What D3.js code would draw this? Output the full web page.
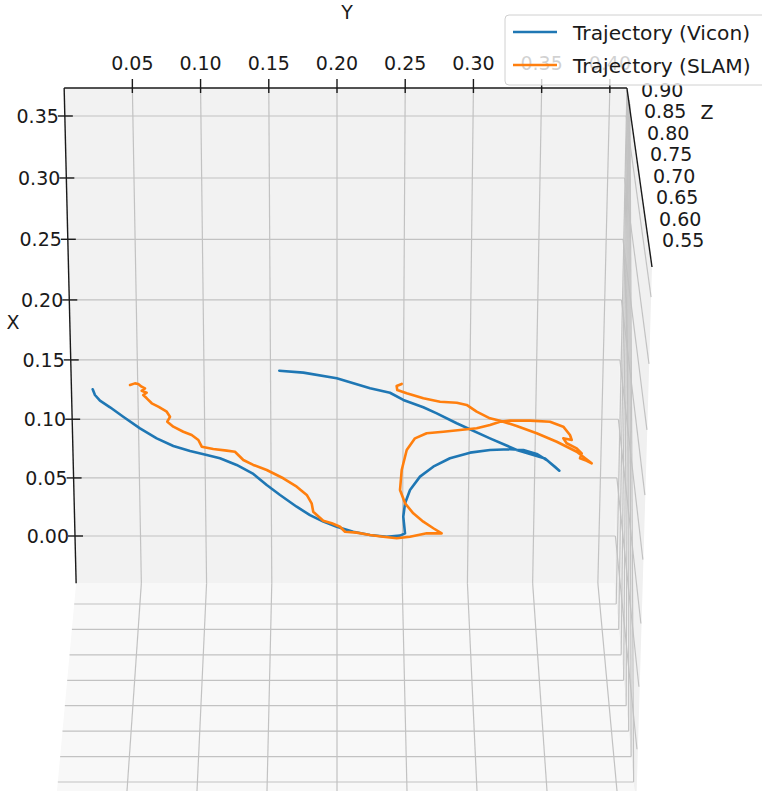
<!DOCTYPE html>
<html>
<head>
<meta charset="utf-8">
<script src="https://cdn.jsdelivr.net/npm/d3@7"></script>
<style>
  body { margin: 0; background: #fff; }
  svg { display: block; font-family: "DejaVu Sans", sans-serif; }
</style>
</head>
<body>
<svg id="chart" width="762" height="791"></svg>
<script>
// tick values
const yTicks = [0.05, 0.10, 0.15, 0.20, 0.25, 0.30, 0.35, 0.40];
const xTicks = [0.00, 0.05, 0.10, 0.15, 0.20, 0.25, 0.30, 0.35];
const zTicks = [0.55, 0.60, 0.65, 0.70, 0.75, 0.80, 0.85, 0.90];

// axis limits
const yLim = [0.0, 0.4125];
const xLim = [-0.041, 0.3724];

// Vicon trajectory (Y, X)
const viconY = [0.0160, 0.0176, 0.0213, 0.0288, 0.0386, 0.0511, 0.0636, 0.0761, 0.0887, 0.1013,
  0.1113, 0.1239, 0.1365, 0.1466, 0.1567, 0.1693, 0.1794, 0.1896, 0.1998, 0.2124,
  0.2252, 0.2379, 0.2481, 0.2519, 0.2505, 0.2518, 0.2555, 0.2630, 0.2730, 0.2856,
  0.3008, 0.3159, 0.3310, 0.3411, 0.3513, 0.3590, 0.3653, 0.3687, 0.3577, 0.3361,
  0.3157, 0.2904, 0.2753, 0.2651, 0.2500, 0.2399, 0.2249, 0.1998, 0.1747, 0.1566];
const viconX = [0.1253, 0.1205, 0.1157, 0.1101, 0.1021, 0.0923, 0.0838, 0.0773, 0.0730, 0.0696,
  0.0668, 0.0611, 0.0534, 0.0439, 0.0354, 0.0253, 0.0181, 0.0124, 0.0080, 0.0037,
  0.0009, -0.0006, 0.0003, 0.0023, 0.0167, 0.0282, 0.0397, 0.0511, 0.0596, 0.0668,
  0.0716, 0.0739, 0.0745, 0.0739, 0.0705, 0.0653, 0.0596, 0.0562, 0.0666, 0.0739,
  0.0838, 0.0966, 0.1050, 0.1101, 0.1163, 0.1224, 0.1261, 0.1346, 0.1393, 0.1409];

// SLAM trajectory (Y, X)
const slamY = [0.0442, 0.0479, 0.0504, 0.0529, 0.0554, 0.0529, 0.0566, 0.0540, 0.0566, 0.0603,
  0.0652, 0.0715, 0.0739, 0.0718, 0.0763, 0.0838, 0.0901, 0.0951, 0.0976, 0.1063,
  0.1165, 0.1227, 0.1290, 0.1365, 0.1467, 0.1592, 0.1694, 0.1770, 0.1807, 0.1819,
  0.1895, 0.1960, 0.2023, 0.2061, 0.2150, 0.2252, 0.2353, 0.2456, 0.2557, 0.2685,
  0.2799, 0.2735, 0.2658, 0.2581, 0.2518, 0.2479, 0.2491, 0.2528, 0.2590, 0.2678,
  0.2804, 0.2930, 0.3056, 0.3156, 0.3231, 0.3307, 0.3458, 0.3609, 0.3710, 0.3762,
  0.3776, 0.3712, 0.3738, 0.3815, 0.3854, 0.3842, 0.3893, 0.3931, 0.3816, 0.3663,
  0.3510, 0.3358, 0.3231, 0.3155, 0.3054, 0.2978, 0.2903, 0.2777, 0.2651, 0.2525,
  0.2454, 0.2449, 0.2487];
const slamX = [0.1289, 0.1303, 0.1298, 0.1275, 0.1261, 0.1241, 0.1224, 0.1205, 0.1177, 0.1135,
  0.1106, 0.1064, 0.1021, 0.0979, 0.0937, 0.0894, 0.0866, 0.0824, 0.0767, 0.0747,
  0.0733, 0.0724, 0.0653, 0.0611, 0.0568, 0.0497, 0.0425, 0.0354, 0.0282, 0.0210,
  0.0132, 0.0110, 0.0080, 0.0037, 0.0029, 0.0009, -0.0006, -0.0020, -0.0006, 0.0023,
  0.0023, 0.0067, 0.0124, 0.0196, 0.0282, 0.0397, 0.0568, 0.0739, 0.0838, 0.0881,
  0.0894, 0.0909, 0.0923, 0.0951, 0.0979, 0.0988, 0.0988, 0.0979, 0.0937, 0.0866,
  0.0824, 0.0838, 0.0796, 0.0753, 0.0710, 0.0668, 0.0647, 0.0625, 0.0724, 0.0809,
  0.0881, 0.0943, 0.0988, 0.1008, 0.1064, 0.1121, 0.1140, 0.1148, 0.1177, 0.1219,
  0.1247, 0.1281, 0.1298];

const svg = d3.select("#chart");
const cx = 337;
const gridColor = "#c2c2c2";
const fontSize = 19;

// perspective for the floor pane (Y across, X up the screen)
const wX = d3.scaleLinear().domain([0, 1]).range([1, 0.8932]);
const rowX = d3.scaleLinear().domain([0, 0.35]).range([536, 111.66]);
const colY = d3.scaleLinear().domain([0.2, 0.4]).range([0, 262]);
function proj(Y, X) {
  const w = wX(X);
  return [cx + colY(Y) / w, rowX(X) / w];
}

// lower pane (seen below the floor)
const floorRow = proj(yLim[1], xLim[0])[1];
const bottomRow = 800;
const zLow = d3.scaleLinear().domain([0.90, 0.55]).range([604, 782]);
const spread = d3.scaleLinear().domain([floorRow, 791]).range([1 / wX(xLim[0]), 1400 / 1310]);
function projLow(Y, row) { return [cx + colY(Y) * spread(row), row]; }

// z axis on the right
const zTop = proj(yLim[1], xLim[1]);
const zEnd = [652, 267];
const zRow = d3.scaleLinear().domain([0.55, 0.90]).range([240, 90]);
function projZ(Z) {
  const r = zRow(Z);
  return [zTop[0] + (r - zTop[1]) * (zEnd[0] - zTop[0]) / (zEnd[1] - zTop[1]), r];
}
// z grid lines of the side pane all start close to the top corner
const zFan = d3.scaleLinear().domain([0.90, 0.55]).range([0, 1]);
function fanStart(Z) { const f = zFan(Z); return [zTop[0] + 3 * f, zTop[1] + 2 + 14 * f]; }

const line = d3.line();

// panes
const lowBR = projLow(yLim[1], bottomRow);
svg.append("path")
  .attr("d", line([zTop, zEnd, [lowBR[0] + 1, bottomRow], lowBR, projLow(yLim[1], floorRow)]) + "Z")
  .attr("fill", "#f0f0f0");
svg.append("path")
  .attr("d", line([projLow(yLim[0], floorRow), projLow(yLim[1], floorRow),
    projLow(yLim[1], bottomRow), projLow(yLim[0], bottomRow)]) + "Z")
  .attr("fill", "#f8f8f8");
svg.append("path")
  .attr("d", line([proj(yLim[0], xLim[1]), proj(yLim[1], xLim[1]),
    proj(yLim[1], xLim[0]), proj(yLim[0], xLim[0])]) + "Z")
  .attr("fill", "#f2f2f2");

const grid = svg.append("g").attr("stroke", gridColor).attr("stroke-width", 1.2).attr("fill", "none");

// side pane grid
zTicks.forEach(z => {
  grid.append("path").attr("d", line([fanStart(z), projLow(yLim[1], zLow(z))]));
});
xTicks.forEach(x => {
  const f = proj(yLim[1], x);
  const t = (f[1] - zTop[1]) / (floorRow - zTop[1]);
  const o = [zEnd[0] + t * (lowBR[0] - zEnd[0]), zEnd[1] + t * (bottomRow - zEnd[1])];
  grid.append("path").attr("d", line([f, o]));
});

// lower pane grid
yTicks.forEach(y => {
  grid.append("path").attr("d", line([projLow(y, floorRow), projLow(y, bottomRow)]));
});
zTicks.forEach(z => {
  const r = zLow(z);
  grid.append("path").attr("d", line([projLow(yLim[0], r), projLow(yLim[1], r)]));
});

// floor grid
yTicks.forEach(y => {
  grid.append("path").attr("d", line([proj(y, xLim[1]), proj(y, xLim[0])]));
});
xTicks.forEach(x => {
  grid.append("path").attr("d", line([proj(yLim[0], x), proj(yLim[1], x)]));
});

// trajectories
const traj = d3.line().x(d => proj(d[0], d[1])[0]).y(d => proj(d[0], d[1])[1]);
svg.append("path")
  .attr("d", traj(d3.zip(viconY, viconX)))
  .attr("fill", "none").attr("stroke", "#1f77b4").attr("stroke-width", 2.6)
  .attr("stroke-linejoin", "round").attr("stroke-linecap", "round");
svg.append("path")
  .attr("d", traj(d3.zip(slamY, slamX)))
  .attr("fill", "none").attr("stroke", "#ff7f0e").attr("stroke-width", 2.6)
  .attr("stroke-linejoin", "round").attr("stroke-linecap", "round");

// axis lines
const axes = svg.append("g").attr("stroke", "#1a1a1a").attr("stroke-width", 1.4).attr("fill", "none");
axes.append("path").attr("d", line([proj(yLim[0], xLim[1]), proj(yLim[1], xLim[1])]));
axes.append("path").attr("d", line([proj(yLim[0], xLim[1]), proj(yLim[0], xLim[0])]));
axes.append("path").attr("d", line([zTop, zEnd]));

// Y ticks on top
yTicks.forEach(y => {
  const p = proj(y, xLim[1]);
  axes.append("path").attr("d", line([[p[0], p[1] - 9], [p[0], p[1] + 5]]));
  svg.append("text").attr("x", p[0]).attr("y", 70)
    .attr("text-anchor", "middle").attr("font-size", fontSize).attr("fill", "#1a1a1a")
    .text(y.toFixed(2));
});

// X ticks on the left
xTicks.forEach(x => {
  const p = proj(yLim[0], x);
  axes.append("path").attr("d", line([[p[0] - 7, p[1]], [p[0] + 8, p[1]]]));
  svg.append("text").attr("x", p[0] - 6).attr("y", p[1] + 7)
    .attr("text-anchor", "end").attr("font-size", fontSize).attr("fill", "#1a1a1a")
    .text(x.toFixed(2));
});

// Z tick labels
zTicks.forEach(z => {
  const p = projZ(z);
  svg.append("text").attr("x", p[0] + 35).attr("y", p[1] + 7)
    .attr("text-anchor", "middle").attr("font-size", fontSize).attr("fill", "#1a1a1a")
    .text(z.toFixed(2));
});

// axis labels
svg.append("text").attr("x", 347).attr("y", 19).attr("text-anchor", "middle")
  .attr("font-size", fontSize).attr("fill", "#1a1a1a").text("Y");
svg.append("text").attr("x", 13).attr("y", 329).attr("text-anchor", "middle")
  .attr("font-size", fontSize).attr("fill", "#1a1a1a").text("X");
svg.append("text").attr("x", 707).attr("y", 119).attr("text-anchor", "middle")
  .attr("font-size", fontSize).attr("fill", "#1a1a1a").text("Z");

// legend
const series = ["Trajectory (Vicon)", "Trajectory (SLAM)"];
const colors = ["#1f77b4", "#ff7f0e"];
const legend = svg.append("g").attr("transform", "translate(505,15)");
legend.append("rect")
  .attr("width", 270).attr("height", 70).attr("rx", 4)
  .attr("fill", "#fff").attr("fill-opacity", 0.8)
  .attr("stroke", "#d0d0d0").attr("stroke-width", 1);
series.forEach((s, i) => {
  legend.append("line")
    .attr("x1", 8).attr("x2", 52).attr("y1", 17 + i * 33).attr("y2", 17 + i * 33)
    .attr("stroke", colors[i]).attr("stroke-width", 2.6);
  legend.append("text")
    .attr("x", 68).attr("y", 25 + i * 33)
    .attr("font-size", 20.2).attr("fill", "#1a1a1a").text(s);
});
</script>
</body>
</html>
